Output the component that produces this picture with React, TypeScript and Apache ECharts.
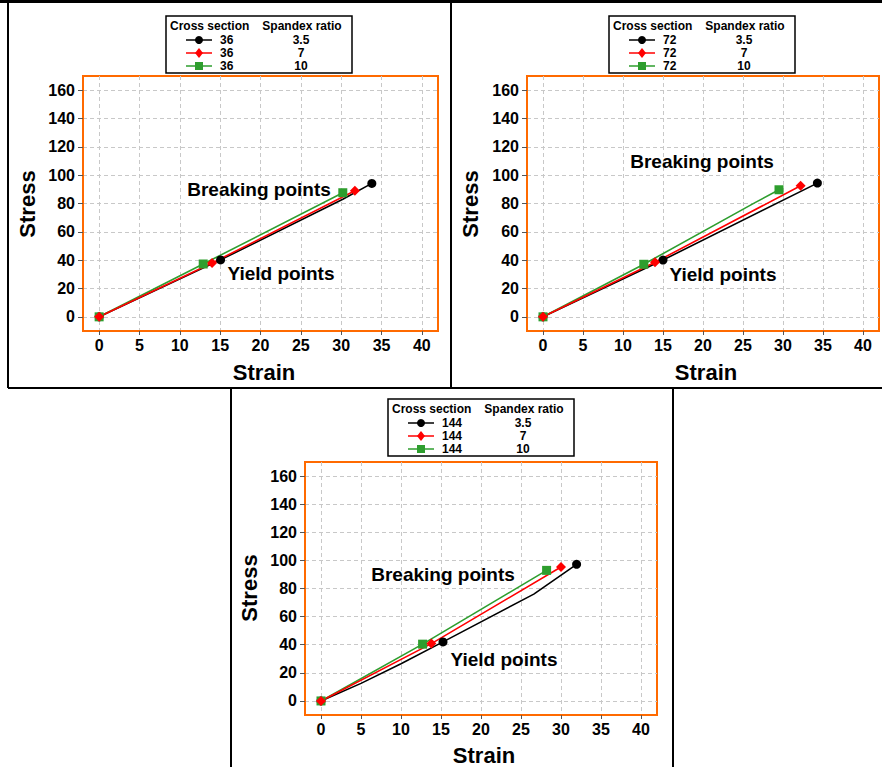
import React, { useEffect, useRef } from "react";
import * as echarts from "echarts";

// ---------- data ----------
const strainTicks = [0, 5, 10, 15, 20, 25, 30, 35, 40];
const stressTicks = [0, 20, 40, 60, 80, 100, 120, 140, 160];
const crossSections = ["36", "72", "144"];
const spandexRatios = ["3.5", "7", "10"];

// cross section 36
const strain36_r35 = [0, 15.05, 30.2, 33.8];
const stress36_r35 = [0, 40.2, 83.0, 94.2];
const yield36_r35 = 1;
const strain36_r7 = [0, 14.0, 31.7];
const stress36_r7 = [0, 38.0, 89.0];
const yield36_r7 = 1;
const strain36_r10 = [0, 12.9, 30.2];
const stress36_r10 = [0, 37.3, 87.6];
const yield36_r10 = 1;

// cross section 72
const strain72_r35 = [0, 15.0, 34.3];
const stress72_r35 = [0, 40.1, 94.4];
const yield72_r35 = 1;
const strain72_r7 = [0, 14.0, 32.2];
const stress72_r7 = [0, 38.5, 92.5];
const yield72_r7 = 1;
const strain72_r10 = [0, 12.6, 26.5, 29.5];
const stress72_r10 = [0, 37.1, 80.6, 89.7];
const yield72_r10 = 1;

// cross section 144
const strain144_r35 = [0, 5, 10, 15.25, 26.6, 31.95];
const stress144_r35 = [0, 12.5, 26.5, 42.0, 76.0, 97.2];
const yield144_r35 = 3;
const strain144_r7 = [0, 13.8, 30.0];
const stress144_r7 = [0, 40.8, 95.3];
const yield144_r7 = 1;
const strain144_r10 = [0, 12.7, 28.2];
const stress144_r10 = [0, 40.4, 92.9];
const yield144_r10 = 1;

const annotationBreaking = "Breaking points";
const annotationYield = "Yield points";

// ---------- styling / layout ----------
const FONT = "'Liberation Sans', Arial, Helvetica, sans-serif";
const ORANGE = "#FF6A00";
const COLORS = ["#000000", "#FF0000", "#2E9E2E"];
const SYMBOLS = ["circle", "diamond", "rect"];
const SYMBOL_SIZES = [9, 10, 9];

const panels = [
  {
    curves: [
      [strain36_r35, stress36_r35, yield36_r35],
      [strain36_r7, stress36_r7, yield36_r7],
      [strain36_r10, stress36_r10, yield36_r10],
    ],
    grid: { left: 83, top: 76, width: 355, height: 255 },
    legend: [166, 16],
    yName: [27, 204],
    xName: [264, 372],
    breaking: [259, 189],
    yieldPos: [281, 273],
  },
  {
    curves: [
      [strain72_r35, stress72_r35, yield72_r35],
      [strain72_r7, stress72_r7, yield72_r7],
      [strain72_r10, stress72_r10, yield72_r10],
    ],
    grid: { left: 527, top: 76, width: 352, height: 255 },
    legend: [609, 16],
    yName: [470, 204],
    xName: [706, 372],
    breaking: [702, 161],
    yieldPos: [723, 274],
  },
  {
    curves: [
      [strain144_r35, stress144_r35, yield144_r35],
      [strain144_r7, stress144_r7, yield144_r7],
      [strain144_r10, stress144_r10, yield144_r10],
    ],
    grid: { left: 305, top: 462, width: 352, height: 253 },
    legend: [388, 399],
    yName: [249, 588],
    xName: [484, 755],
    breaking: [443, 574],
    yieldPos: [504, 659],
  },
];

function legendGroup(left: number, top: number, cs: string) {
  const children: any[] = [];
  children.push({
    type: "rect",
    shape: { x: 0, y: 0, width: 186, height: 57 },
    style: { fill: "#fff", stroke: "#000", lineWidth: 1.5 },
  });
  const hfont = `bold 12px ${FONT}`;
  const txt = (text: string, x: number, y: number, align: string) => ({
    type: "text",
    x,
    y,
    style: { text, font: hfont, lineHeight: 12, fill: "#000", align, verticalAlign: "middle" },
  });
  children.push(txt("Cross section", 4, 10, "left"));
  children.push(txt("Spandex ratio", 136, 10, "center"));
  const rowY = [24, 37, 50];
  for (let i = 0; i < 3; i++) {
    const y = rowY[i];
    const c = COLORS[i];
    children.push({
      type: "line",
      shape: { x1: 20, y1: y, x2: 46, y2: y },
      style: { stroke: c, lineWidth: 1.5 },
    });
    if (i === 0) {
      children.push({ type: "circle", shape: { cx: 33, cy: y, r: 4 }, style: { fill: c } });
    } else if (i === 1) {
      children.push({
        type: "polygon",
        shape: { points: [[33, y - 5], [37, y], [33, y + 5], [29, y]] },
        style: { fill: c },
      });
    } else {
      children.push({ type: "rect", shape: { x: 29, y: y - 4, width: 8, height: 8 }, style: { fill: c } });
    }
    children.push(txt(cs, 54, y, "left"));
    children.push(txt(spandexRatios[i], 135, y, "center"));
  }
  return { type: "group", x: left, y: top, children };
}

function buildOption() {
  const grids: any[] = [];
  const xAxes: any[] = [];
  const yAxes: any[] = [];
  const series: any[] = [];
  const graphics: any[] = [];
  const tickFont = { fontSize: 16, fontWeight: "bold", color: "#000", fontFamily: FONT };

  const frame = (x1: number, y1: number, x2: number, y2: number, w = 2) => ({
    type: "line",
    shape: { x1, y1, x2, y2 },
    style: { stroke: "#000", lineWidth: w },
    z: 100,
  });
  graphics.push(frame(0, 1.5, 882, 1.5, 3));
  graphics.push(frame(8, 1, 8, 388));
  graphics.push(frame(451, 1, 451, 388));
  graphics.push(frame(8, 388, 882, 388));
  graphics.push(frame(231, 388, 231, 767));
  graphics.push(frame(673, 388, 673, 767));

  panels.forEach((p, pi) => {
    grids.push({
      left: p.grid.left,
      top: p.grid.top,
      width: p.grid.width,
      height: p.grid.height,
      show: true,
      borderColor: ORANGE,
      borderWidth: 2,
      backgroundColor: "transparent",
    });
    xAxes.push({
      gridIndex: pi,
      type: "value",
      min: -2,
      max: 42,
      axisLine: { show: true, onZero: false, lineStyle: { color: ORANGE, width: 2 } },
      axisTick: { show: true, length: 4, customValues: strainTicks, lineStyle: { color: "#555" } },
      axisLabel: { customValues: strainTicks, margin: 6, ...tickFont },
      splitLine: { show: true, lineStyle: { type: [4, 3], color: "#c8c8c8", width: 1 } },
    });
    yAxes.push({
      gridIndex: pi,
      type: "value",
      min: -10,
      max: 170,
      axisLine: { show: true, onZero: false, lineStyle: { color: ORANGE, width: 2 } },
      axisTick: { show: true, length: 5, customValues: stressTicks, lineStyle: { color: "#555" } },
      axisLabel: { customValues: stressTicks, margin: 8, ...tickFont },
      splitLine: { show: true, lineStyle: { type: [4, 3], color: "#c8c8c8", width: 1 } },
    });

    const order = [0, 2, 1];
    order.forEach((ci) => {
      const [xs, ys, yi] = p.curves[ci] as [number[], number[], number];
      const data = xs.map((x, k) => {
        const marked = k === 0 || k === xs.length - 1 || k === yi;
        return marked ? { value: [x, ys[k]] } : { value: [x, ys[k]], symbol: "none" };
      });
      series.push({
        type: "line",
        name: `${crossSections[pi]} / ${spandexRatios[ci]}`,
        xAxisIndex: pi,
        yAxisIndex: pi,
        data,
        symbol: SYMBOLS[ci],
        symbolSize: SYMBOL_SIZES[ci],
        showAllSymbol: true,
        lineStyle: { color: COLORS[ci], width: 1.6 },
        itemStyle: { color: COLORS[ci] },
        z: 3,
      });
    });

    graphics.push(legendGroup(p.legend[0], p.legend[1], crossSections[pi]));
    graphics.push({
      type: "text",
      x: p.yName[0],
      y: p.yName[1],
      rotation: Math.PI / 2,
      style: { text: "Stress", font: `bold 22px ${FONT}`, fill: "#000", align: "center", verticalAlign: "middle" },
    });
    graphics.push({
      type: "text",
      x: p.xName[0],
      y: p.xName[1],
      style: { text: "Strain", font: `bold 22px ${FONT}`, fill: "#000", align: "center", verticalAlign: "middle" },
    });
    graphics.push({
      type: "text",
      x: p.breaking[0],
      y: p.breaking[1],
      style: { text: annotationBreaking, font: `bold 19px ${FONT}`, fill: "#000", align: "center", verticalAlign: "middle" },
      z: 50,
    });
    graphics.push({
      type: "text",
      x: p.yieldPos[0],
      y: p.yieldPos[1],
      style: { text: annotationYield, font: `bold 19px ${FONT}`, fill: "#000", align: "center", verticalAlign: "middle" },
      z: 50,
    });
  });

  return {
    animation: false,
    backgroundColor: "#ffffff",
    grid: grids,
    xAxis: xAxes,
    yAxis: yAxes,
    series,
    graphic: graphics,
  };
}

export default function App() {
  const ref = useRef<HTMLDivElement>(null);
  useEffect(() => {
    if (!ref.current) return;
    const chart = echarts.init(ref.current, undefined, { renderer: "svg" });
    chart.setOption(buildOption() as any);
    return () => chart.dispose();
  }, []);
  return (
    <div
      ref={ref}
      style={{ position: "absolute", left: 0, top: 0, width: 882, height: 767, background: "#fff" }}
    />
  );
}
